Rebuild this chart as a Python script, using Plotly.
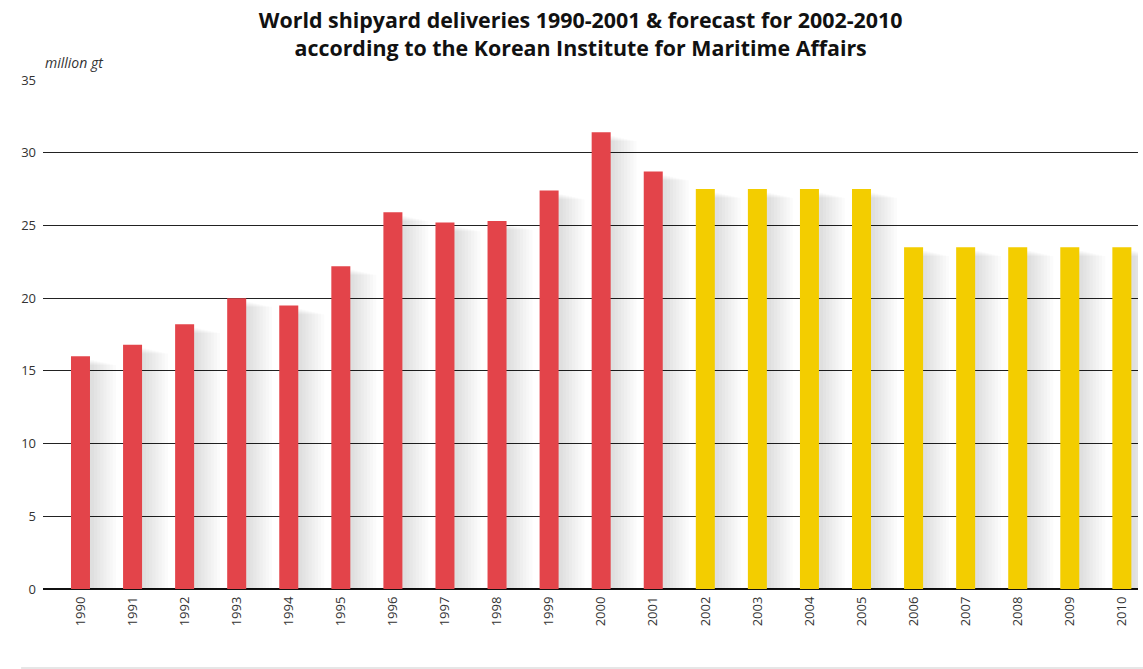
import plotly.graph_objects as go

# World shipyard deliveries (million gt)
years = [str(y) for y in range(1990, 2011)]
actual_years = years[:12]
forecast_years = years[12:]
actual_values = [16.0, 16.8, 18.2, 20.0, 19.5, 22.2, 25.9, 25.2, 25.3, 27.4, 31.4, 28.7]
forecast_values = [27.5, 27.5, 27.5, 27.5, 23.5, 23.5, 23.5, 23.5, 23.5]
y_ticks = [0, 5, 10, 15, 20, 25, 30, 35]

RED = "#E3444A"
YELLOW = "#F3CD00"
BAR_W = 0.365
FONT = "Open Sans"

fig = go.Figure()

# soft drop shadow to the right of every bar: stacked translucent layers,
# the wider layers sit a little lower so the top edge fades out
all_values = actual_values + forecast_values
n_layers = 8
for k in range(n_layers):
    fig.add_trace(go.Bar(
        x=years, y=[v - 0.25 - 0.05 * k for v in all_values],
        width=BAR_W + 0.05 + 0.06 * k,
        offset=-BAR_W / 2 + 0.03,
        marker=dict(color="rgba(0,0,0,0.014)", line=dict(width=0)),
        hoverinfo="skip", showlegend=False,
    ))

fig.add_trace(go.Bar(
    x=actual_years, y=actual_values, width=BAR_W, offset=-BAR_W / 2,
    marker=dict(color=RED, line=dict(width=0)), showlegend=False,
))
fig.add_trace(go.Bar(
    x=forecast_years, y=forecast_values, width=BAR_W, offset=-BAR_W / 2,
    marker=dict(color=YELLOW, line=dict(width=0)), showlegend=False,
))

fig.update_layout(
    width=1143, height=669,
    margin=dict(l=43, r=5, t=80, b=80),
    paper_bgcolor="white", plot_bgcolor="white",
    barmode="overlay",
    font=dict(family=FONT, color="#333333", size=13),
    title=dict(
        text="World shipyard deliveries 1990-2001 & forecast for 2002-2010<br>"
             "according to the Korean Institute for Maritime Affairs",
        x=0.508, xanchor="center", yref="container", y=0.958, yanchor="top",
        font=dict(family=FONT, size=21.4, color="#111111", weight="bold"),
    ),
    xaxis=dict(
        type="category", categoryorder="array", categoryarray=years,
        range=[-0.72, 20.31], tickangle=-90, showgrid=False,
        showline=False, ticks="", tickfont=dict(size=13, color="#333333"),
        ticklabelstandoff=4,
    ),
    yaxis=dict(
        range=[0, 35], tickvals=y_ticks, showgrid=True, gridcolor="#222222",
        gridwidth=1, zeroline=True, zerolinecolor="#111111", zerolinewidth=1.5,
        ticks="", tickfont=dict(size=13, color="#333333"), ticklabelstandoff=6,
        showline=False,
    ),
    annotations=[dict(
        text="<i>million gt</i>", xref="paper", yref="paper",
        x=0.0, y=1.035, xanchor="left", yanchor="middle", showarrow=False,
        font=dict(size=14, color="#333333"),
    )],
    shapes=[dict(
        type="line", xref="paper", yref="paper", x0=-0.02, x1=1.005,
        y0=-0.155, y1=-0.155, line=dict(color="#E6E6E6", width=2),
    )],
)

fig.write_html("out.html")
